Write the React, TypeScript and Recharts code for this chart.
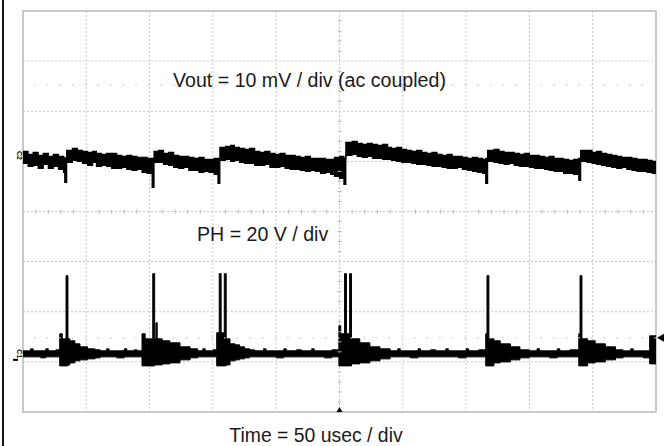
import React from 'react';
import {
  ComposedChart,
  Area,
  XAxis,
  YAxis,
  CartesianGrid,
  ReferenceLine,
  ReferenceArea,
  ReferenceDot,
  Scatter,
} from 'recharts';

const W = 665;
const H = 446;

// graticule: 10 horizontal divisions of 50 usec, 8 vertical divisions
const TIME_TICKS = [0, 50, 100, 150, 200, 250, 300, 350, 400, 450, 500];
const DIV_TICKS = [-4, -3, -2, -1, 0, 1, 2, 3, 4];

// channel settings
const C2_OFFSET_DIV = 1.12; // Vout ground marker position (divisions)
const C1_OFFSET_DIV = -2.84; // PH ground marker position (divisions)
const VOUT_MV_PER_DIV = 10;
const PH_V_PER_DIV = 20;
const TRIGGER_LEVEL_DIV = -2.52;
const TRIGGER_TIME = 250;

// Vout (ac coupled): [time usec, trace low mV, trace high mV]
const voutSamples: [number, number, number][] = [
  [0, -1.6, 0.8], [4, -2.2, 0.2], [8, -2.0, 0.6], [12, -2.6, 0.0], [16, -1.8, 0.4],
  [20, -2.6, -0.2], [24, -2.2, 0.2], [28, -2.8, -0.2], [32, -3.4, -0.4], [33, -5.4, -0.6],
  [34.5, -1.4, 1.0], [39, -1.0, 1.4], [43, -1.2, 1.0], [47, -1.6, 0.8], [51, -2.0, 0.6],
  [55, -1.4, 0.8], [58, -2.2, 0.4], [62, -2.0, 0.2], [66, -2.2, 0.4], [70, -2.6, 0.4],
  [74, -2.6, 0.0], [78, -2.4, -0.2], [82, -2.8, 0.0], [86, -3.0, -0.2], [90, -2.8, -0.4],
  [94, -3.4, -0.4], [98, -3.6, -0.6], [102, -6.4, -0.6], [103.5, -1.4, 0.8], [107, -1.4, 1.0],
  [111, -1.8, 0.4], [115, -2.0, 0.6], [119, -2.4, 0.0], [123, -2.6, -0.2], [127, -2.4, -0.2],
  [131, -3.0, -0.4], [135, -3.0, -0.6], [139, -3.4, -0.4], [143, -3.2, -0.8], [147, -3.4, -0.8],
  [151, -3.8, -0.6], [154, -5.6, -0.6], [155.5, -1.0, 1.6], [160, -0.8, 1.8], [164, -1.2, 2.0],
  [167, -1.0, 1.6], [171, -1.4, 1.4], [175, -1.6, 1.2], [179, -1.6, 1.4], [183, -2.0, 0.8],
  [187, -2.0, 0.6], [191, -1.8, 0.8], [195, -2.4, 0.4], [199, -2.4, 0.2], [203, -2.2, 0.4],
  [207, -2.6, 0.0], [211, -2.8, 0.0], [215, -2.8, -0.2], [219, -3.0, -0.4], [223, -3.2, -0.2],
  [227, -3.0, -0.6], [231, -3.2, -0.6], [235, -3.6, -0.6], [239, -3.4, -0.8], [243, -3.8, -0.8],
  [246, -4.2, -0.4], [250, -4.6, -0.2], [253.5, -5.8, -0.6], [255, 0.0, 2.6], [260, 0.2, 2.8],
  [264, -0.2, 2.4], [268, -0.4, 2.2], [272, -0.2, 2.4], [276, -0.6, 2.2], [280, -0.6, 2.0],
  [284, -0.8, 2.2], [288, -0.8, 1.6], [291, -1.0, 1.4], [295, -1.2, 1.6], [299, -1.4, 1.2],
  [303, -1.4, 1.0], [307, -1.6, 0.8], [311, -1.8, 1.0], [315, -1.8, 0.6], [319, -2.0, 0.4],
  [323, -2.2, 0.6], [327, -2.2, 0.2], [331, -2.4, 0.0], [335, -2.6, 0.2], [339, -2.6, -0.2],
  [343, -2.4, -0.2], [347, -2.8, -0.4], [351, -3.0, -0.6], [355, -3.2, -0.4], [359, -3.4, -0.6],
  [363, -3.6, -0.8], [365.5, -5.6, -0.6], [367, -1.2, 1.0], [372, -1.4, 1.2], [376, -1.6, 0.8],
  [380, -1.8, 0.6], [384, -1.6, 0.6], [388, -2.0, 0.4], [392, -2.2, 0.2], [396, -2.2, 0.4],
  [400, -2.4, 0.0], [404, -2.6, 0.0], [408, -2.6, -0.2], [412, -2.8, -0.4], [415.5, -3.0, -0.2],
  [419.5, -3.2, -0.6], [423, -3.2, -0.6], [427, -3.6, -0.8], [431, -3.6, -1.0], [435, -3.8, -0.8],
  [439, -5.0, -0.6], [440.5, -1.2, 1.0], [445.5, -1.4, 1.0], [449.5, -1.6, 0.6], [453, -1.8, 0.8],
  [457, -2.0, 0.4], [461, -2.2, 0.2], [465, -2.4, 0.0], [469, -2.6, -0.2], [473, -2.4, -0.4],
  [477, -2.8, -0.4], [481, -3.0, -0.6], [485, -3.2, -0.8], [489, -3.2, -0.8], [493, -3.4, -1.0],
  [497, -3.6, -1.2], [500, -3.8, -1.4],
];

// PH (switch node): [time usec, trace low V, trace high V]
const phSamples: [number, number, number][] = [
  [0, -1.2, 1.2], [6, -1.2, 2.0], [8, -1.2, 1.2], [14, -1.6, 1.2], [18, -1.2, 2.0],
  [20, -1.2, 1.2], [26, -1.2, 1.6], [29, -4.8, 8.0], [31, -4.8, 6.0], [34, -4.8, 31.2],
  [35.5, -4.4, 6.0], [37, -3.6, 5.2], [41, -2.8, 4.0], [45, -2.4, 2.8], [51, -2.0, 2.0],
  [57, -1.6, 1.6], [61, -1.2, 1.2], [66, -1.2, 2.0], [68, -1.2, 1.2], [74, -1.6, 1.2],
  [80, -1.2, 2.0], [82, -1.2, 1.2], [88, -1.2, 1.6], [90, -1.2, 1.2], [94, -4.8, 8.0],
  [96.5, -4.8, 6.0], [102.5, -4.8, 32.0], [104, -4.4, 6.0], [105, -4.4, 12.4], [106, -4.4, 6.0],
  [110, -4.0, 5.2], [116, -3.6, 4.4], [124, -2.4, 2.8], [132, -1.6, 2.0], [138, -1.2, 1.2],
  [142, -1.2, 2.0], [144, -1.2, 1.2], [150, -1.2, 1.6], [153, -4.8, 8.4], [155, -4.8, 32.0],
  [156.5, -4.8, 8.4], [159, -4.8, 32.0], [160.5, -4.4, 6.0], [163.5, -2.8, 4.0], [167.5, -2.4, 3.6],
  [171, -2.0, 2.8], [175, -1.6, 2.0], [179, -1.2, 1.6], [183, -1.2, 1.2], [190, -1.2, 2.0],
  [192, -1.2, 1.2], [200, -1.6, 1.2], [206, -1.2, 2.0], [208, -1.2, 1.2], [216, -1.2, 1.6],
  [220, -1.2, 1.2], [228, -1.2, 2.0], [230, -1.2, 1.2], [238, -1.6, 1.2], [244, -1.2, 1.6],
  [249.5, -4.8, 11.2], [251, -4.8, 8.0], [254, -4.8, 32.0], [255.5, -4.8, 8.0], [258, -4.8, 32.0],
  [259.5, -4.0, 6.0], [266, -3.6, 4.4], [274, -2.8, 2.8], [282, -2.0, 2.0], [290, -1.2, 1.2],
  [296, -1.2, 2.0], [298, -1.2, 1.2], [306, -1.6, 1.2], [312, -1.2, 2.0], [314, -1.2, 1.2],
  [322, -1.2, 1.6], [326, -1.2, 1.2], [334, -1.2, 2.0], [336, -1.2, 1.2], [344, -1.6, 1.2],
  [350, -1.2, 2.0], [352, -1.2, 1.2], [360, -1.2, 1.6], [365.5, -4.8, 8.0], [366.5, -4.8, 31.2],
  [368, -4.8, 6.0], [372, -3.6, 5.2], [377, -3.2, 4.0], [385, -2.4, 2.8], [392.5, -1.6, 1.6],
  [400, -1.2, 1.2], [406, -1.2, 2.0], [408, -1.2, 1.2], [416, -1.6, 1.2], [422, -1.2, 2.0],
  [424, -1.2, 1.2], [432, -1.2, 1.6], [439, -4.8, 8.0], [440, -4.8, 31.2], [441.5, -4.8, 6.0],
  [446, -3.6, 5.2], [452, -3.2, 4.0], [460, -2.4, 2.8], [468, -1.6, 1.6], [474, -1.2, 1.2],
  [480, -1.2, 2.0], [482, -1.2, 1.2], [490, -1.6, 1.2], [495, -4.0, 7.2], [500, -4.0, 7.2],
];

const voutData = voutSamples.map(([t, lo, hi]) => ({
  t,
  band: [C2_OFFSET_DIV + lo / VOUT_MV_PER_DIV, C2_OFFSET_DIV + hi / VOUT_MV_PER_DIV],
}));
const phData = phSamples.map(([t, lo, hi]) => ({
  t,
  band: [C1_OFFSET_DIV + lo / PH_V_PER_DIV, C1_OFFSET_DIV + hi / PH_V_PER_DIV],
}));

// minor graticule ticks (1/5 division) along the centre lines
const minorTimeTicks = TIME_TICKS.slice(0, -1)
  .flatMap((t) => [t + 10, t + 20, t + 30, t + 40])
  .map((t) => ({ t, y: 0 }));
const minorDivTicks = DIV_TICKS.slice(0, -1)
  .flatMap((d) => [d + 0.2, d + 0.4, d + 0.6, d + 0.8])
  .map((y) => ({ t: TRIGGER_TIME, y }));

const GRID = '#c6c6c6';
const FONT = '"Liberation Sans", Arial, Helvetica, sans-serif';

const HTick = (p: any) => (
  <line x1={p.cx} x2={p.cx} y1={p.cy - 2} y2={p.cy + 2} stroke="#b5b5b5" strokeWidth={1} />
);
const VTick = (p: any) => (
  <line x1={p.cx - 2} x2={p.cx + 2} y1={p.cy} y2={p.cy} stroke="#b5b5b5" strokeWidth={1} />
);

const ChannelMarker = (label: string, underline: boolean) => (p: any) => (
  <g>
    <text
      x={p.cx - 6}
      y={p.cy}
      transform={`rotate(90 ${p.cx - 6} ${p.cy})`}
      textAnchor="middle"
      fontSize={7}
      fontWeight="bold"
      fontFamily={FONT}
      fill="#000"
    >
      {label}
    </text>
    {underline ? <rect x={p.cx - 10} y={p.cy + 5} width={5} height={2} fill="#000" /> : null}
  </g>
);

const TriggerTimeMarker = (p: any) => (
  <polygon points={`${p.cx - 3},${p.cy} ${p.cx + 3},${p.cy} ${p.cx},${p.cy - 5}`} fill="#000" />
);
const TriggerLevelMarker = (p: any) => (
  <polygon points={`${p.cx + 1},${p.cy} ${p.cx + 8},${p.cy - 4} ${p.cx + 8},${p.cy + 4}`} fill="#000" />
);

export default function App() {
  return (
    <div style={{ position: 'absolute', left: 0, top: 0, width: W, height: H, background: '#fff', overflow: 'hidden' }}>
      <div style={{ position: 'absolute', left: 2, top: 0, width: 2, height: H, background: '#111' }} />
      <ComposedChart width={W} height={H} margin={{ top: 11, right: 9, bottom: 34, left: 23 }}>
        <XAxis dataKey="t" type="number" domain={[0, 500]} ticks={TIME_TICKS} hide allowDataOverflow />
        <YAxis type="number" domain={[-4, 4]} ticks={DIV_TICKS} hide allowDataOverflow />
        <CartesianGrid stroke={GRID} strokeDasharray="2 2" />
        <ReferenceArea x1={0} x2={500} y1={-4} y2={4} fill="none" stroke="#bdbdbd" strokeWidth={1.5} ifOverflow="visible" />
        <ReferenceLine y={2.52} stroke="#c8c8c8" strokeWidth={1.2} strokeDasharray="1.5 11.16" strokeDashoffset={-11} />
        <ReferenceLine y={TRIGGER_LEVEL_DIV} stroke="#c8c8c8" strokeWidth={1.2} strokeDasharray="1.5 11.16" strokeDashoffset={-11} />
        <Scatter data={minorTimeTicks} dataKey="y" shape={HTick} isAnimationActive={false} />
        <Scatter data={minorDivTicks} dataKey="y" shape={VTick} isAnimationActive={false} />
        <Area
          data={voutData}
          dataKey="band"
          type="stepAfter"
          stroke="#000"
          strokeWidth={1.2}
          fill="#000"
          fillOpacity={1}
          dot={false}
          activeDot={false}
          isAnimationActive={false}
        />
        <Area
          data={phData}
          dataKey="band"
          type="stepAfter"
          stroke="#000"
          strokeWidth={1}
          fill="#000"
          fillOpacity={1}
          dot={false}
          activeDot={false}
          isAnimationActive={false}
        />
        <ReferenceDot x={0} y={C2_OFFSET_DIV} r={0} shape={ChannelMarker('C2', false)} ifOverflow="visible" />
        <ReferenceDot x={0} y={C1_OFFSET_DIV} r={0} shape={ChannelMarker('C1', true)} ifOverflow="visible" />
        <ReferenceDot x={TRIGGER_TIME} y={-4} r={0} shape={TriggerTimeMarker} ifOverflow="visible" />
        <ReferenceDot x={500} y={TRIGGER_LEVEL_DIV} r={0} shape={TriggerLevelMarker} ifOverflow="visible" />
      </ComposedChart>
      <svg width={W} height={H} style={{ position: 'absolute', left: 0, top: 0, pointerEvents: 'none' }}>
        <text x={309.5} y={87} textAnchor="middle" fontSize={19.6} fontFamily={FONT} fill="#1a1a1a">
          Vout = 10 mV / div (ac coupled)
        </text>
        <text x={197} y={241} textAnchor="start" fontSize={19.6} fontFamily={FONT} fill="#1a1a1a">
          PH = 20 V / div
        </text>
        <text x={316} y={441.5} textAnchor="middle" fontSize={19.4} fontFamily={FONT} fill="#1a1a1a">
          Time = 50 usec / div
        </text>
      </svg>
    </div>
  );
}
